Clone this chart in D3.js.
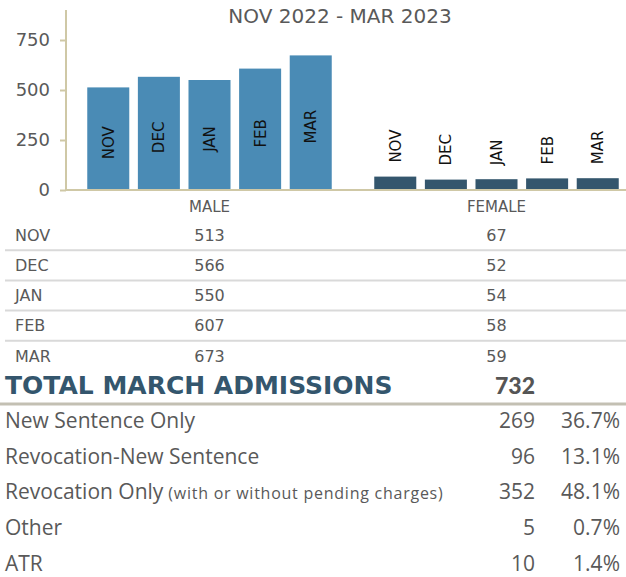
<!DOCTYPE html>
<html>
<head>
<meta charset="utf-8">
<script src="https://cdn.jsdelivr.net/npm/d3@7"></script>
<style>
  body { margin: 0; background: #fff; }
  svg { display: block; }
</style>
</head>
<body>
<div id="chart"></div>
<script>
const months = ["NOV", "DEC", "JAN", "FEB", "MAR"];
const genders = ["MALE", "FEMALE"];
const maleCounts = [513, 566, 550, 607, 673];
const femaleCounts = [67, 52, 54, 58, 59];
const yTicks = [0, 250, 500, 750];

const admissionTypes = ["New Sentence Only", "Revocation-New Sentence", "Revocation Only", "Other", "ATR"];
const admissionNotes = ["", "", "(with or without pending charges)", "", ""];
const admissionCounts = [269, 96, 352, 5, 10];
const admissionPcts = ["36.7%", "13.1%", "48.1%", "0.7%", "1.4%"];
const totalLabel = "TOTAL MARCH ADMISSIONS";
const totalMarch = 732;

const W = 626, H = 577;
const chartFont = "'DejaVu Sans', sans-serif";
const tableFont = "'Open Sans', sans-serif";
const grey = "#595959";

const svg = d3.select("#chart").append("svg")
  .attr("width", W)
  .attr("height", H);

// chart scales
const y = d3.scaleLinear().domain([0, 900]).range([190, 10]);
const xGroup = d3.scaleBand().domain(genders).range([66, 640]);
const xMonth = d3.scaleBand().domain(months)
  .range([0, xGroup.bandwidth()])
  .paddingInner(0.17)
  .paddingOuter(0.42);

const series = { MALE: maleCounts, FEMALE: femaleCounts };
const barColor = { MALE: "#4a8bb5", FEMALE: "#34566d" };

const bars = [];
genders.forEach(g => months.forEach((m, i) => bars.push({ gender: g, month: m, value: series[g][i] })));

// bars
svg.selectAll(".bar")
  .data(bars)
  .enter().append("rect")
  .attr("class", "bar")
  .attr("x", d => xGroup(d.gender) + xMonth(d.month))
  .attr("width", xMonth.bandwidth())
  .attr("y", d => y(d.value))
  .attr("height", d => y(0) - y(d.value))
  .attr("fill", d => barColor[d.gender]);

// rotated month labels: inside for male, above for female
svg.selectAll(".bar-label")
  .data(bars)
  .enter().append("text")
  .attr("class", "bar-label")
  .attr("transform", d => {
    const cx = xGroup(d.gender) + xMonth(d.month) + xMonth.bandwidth() / 2;
    const cy = d.gender === "MALE" ? (y(d.value) + y(0)) / 2 + 4 : y(d.value) - 14;
    return `translate(${cx},${cy}) rotate(-90)`;
  })
  .attr("text-anchor", d => d.gender === "MALE" ? "middle" : "start")
  .attr("dy", "0.36em")
  .style("font-family", chartFont)
  .style("font-size", "15px")
  .style("fill", "#111")
  .text(d => d.month);

// y axis
const yAxis = svg.append("g")
  .attr("transform", "translate(66,0)")
  .call(d3.axisLeft(y).tickValues(yTicks).tickSize(6).tickPadding(10));
yAxis.select(".domain").attr("stroke", "#cfc8a6").attr("stroke-width", 2).attr("d", `M0,${y(900)}V${y(0)}`);
yAxis.selectAll(".tick line").attr("stroke", "#cfc8a6").attr("stroke-width", 2);
yAxis.selectAll(".tick text")
  .style("font-family", chartFont)
  .style("font-size", "18px")
  .style("fill", grey);

// baseline
svg.append("line")
  .attr("x1", 66).attr("x2", W)
  .attr("y1", y(0)).attr("y2", y(0))
  .attr("stroke", "#cfc8a6").attr("stroke-width", 2);

// title
svg.append("text")
  .attr("x", 340).attr("y", 23)
  .attr("text-anchor", "middle")
  .style("font-family", chartFont)
  .style("font-size", "20px")
  .style("fill", grey)
  .text("NOV 2022 - MAR 2023");

// group labels
svg.selectAll(".group-label")
  .data(genders)
  .enter().append("text")
  .attr("class", "group-label")
  .attr("x", d => xGroup(d) + xGroup.bandwidth() / 2)
  .attr("y", 207)
  .attr("dy", "0.35em")
  .attr("text-anchor", "middle")
  .style("font-family", chartFont)
  .style("font-size", "15px")
  .style("fill", grey)
  .text(d => d);

// data table under chart
const rowY = d3.scaleBand().domain(months).range([220, 371]);

svg.selectAll(".row-line")
  .data(months.slice(0, -1))
  .enter().append("line")
  .attr("class", "row-line")
  .attr("x1", 5).attr("x2", W)
  .attr("y1", d => rowY(d) + rowY.bandwidth())
  .attr("y2", d => rowY(d) + rowY.bandwidth())
  .attr("stroke", "#d9d9d9").attr("stroke-width", 2);

const rows = svg.selectAll(".row")
  .data(months)
  .enter().append("g")
  .attr("class", "row")
  .attr("transform", d => `translate(0,${rowY(d) + rowY.bandwidth() / 2})`)
  .style("font-family", chartFont)
  .style("font-size", "16px")
  .style("fill", grey);

rows.append("text").attr("x", 15).attr("dy", "0.35em").text(d => d);
rows.append("text").attr("x", xGroup("MALE") + xGroup.bandwidth() / 2)
  .attr("text-anchor", "middle").attr("dy", "0.35em")
  .text((d, i) => maleCounts[i]);
rows.append("text").attr("x", xGroup("FEMALE") + xGroup.bandwidth() / 2)
  .attr("text-anchor", "middle").attr("dy", "0.35em")
  .text((d, i) => femaleCounts[i]);

// total march admissions
svg.append("text")
  .attr("x", 5).attr("y", 394)
  .style("font-family", "'DejaVu Sans', sans-serif")
  .style("font-weight", "bold")
  .style("font-size", "25px")
  .style("fill", "#34566d")
  .text(totalLabel);
svg.append("text")
  .attr("x", 535).attr("y", 394)
  .attr("text-anchor", "end")
  .style("font-family", "Lato, sans-serif")
  .style("font-weight", "900")
  .style("font-size", "23px")
  .style("fill", "#555")
  .text(totalMarch);
svg.append("line")
  .attr("x1", 0).attr("x2", W)
  .attr("y1", 404).attr("y2", 404)
  .attr("stroke", "#c3c0b3").attr("stroke-width", 3);

const admY = d3.scaleBand().domain(admissionTypes).range([403, 581]);
const adm = svg.selectAll(".adm")
  .data(admissionTypes)
  .enter().append("g")
  .attr("class", "adm")
  .attr("transform", d => `translate(0,${admY(d) + admY.bandwidth() / 2})`)
  .style("font-family", tableFont)
  .style("fill", grey);

const admLabel = adm.append("text").attr("x", 5).attr("dy", "0.35em").style("font-size", "21px");
admLabel.append("tspan").text(d => d);
admLabel.append("tspan").style("font-size", "16px").style("letter-spacing", "0.75px")
  .text((d, i) => admissionNotes[i] ? " " + admissionNotes[i] : "");

adm.append("text").attr("x", 535).attr("dy", "0.35em")
  .attr("text-anchor", "end").style("font-size", "21px")
  .text((d, i) => admissionCounts[i]);
adm.append("text").attr("x", 620).attr("dy", "0.35em")
  .attr("text-anchor", "end").style("font-size", "21px")
  .text((d, i) => admissionPcts[i]);
</script>
</body>
</html>
